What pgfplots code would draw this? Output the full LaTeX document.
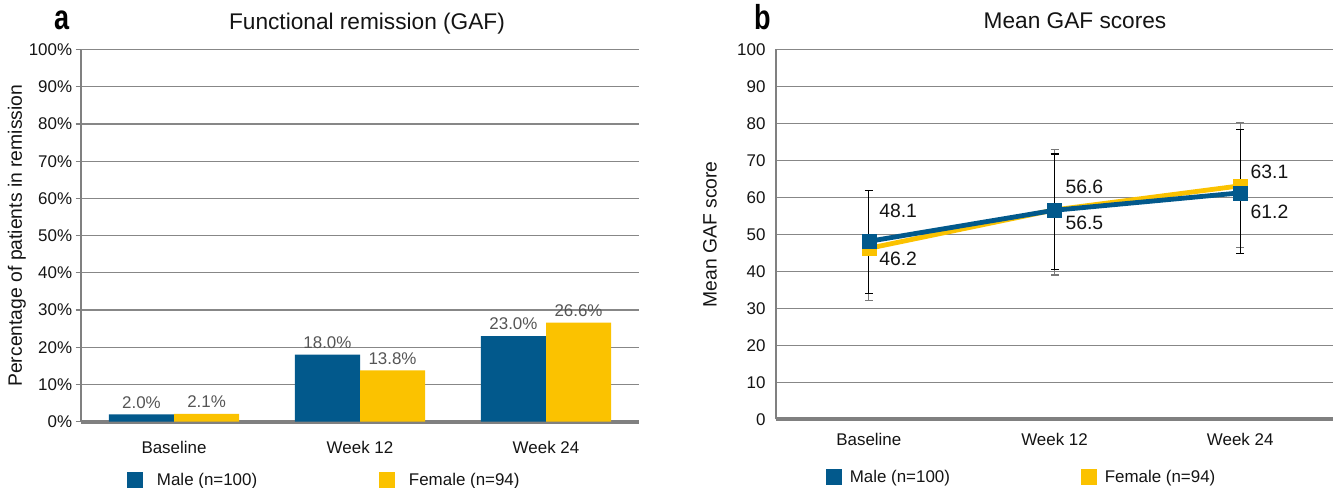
\documentclass[border=0pt]{standalone}
\usepackage{pgfplots}
\pgfplotsset{compat=1.18}
\usepackage{fontspec}
\setmainfont{Liberation Sans}
\usepackage{graphicx}
\definecolor{cblue}{RGB}{2,89,140}
\definecolor{cyel}{RGB}{251,194,0}
\definecolor{cgrid}{RGB}{135,135,135}
\definecolor{caxis}{RGB}{128,128,128}
\definecolor{cval}{RGB}{85,85,85}
\definecolor{ctext}{RGB}{20,20,20}
\definecolor{cerrg}{RGB}{120,120,120}
\newcommand{\fs}[1]{\fontsize{#1}{#1}\selectfont}

\pgfplotsset{
  common/.style={
    scale only axis,
    anchor=south west,
    xmin=-0.5, xmax=2.5,
    ymin=0, ymax=100,
    xtick={0,1,2},
    xticklabels={Baseline,Week 12,Week 24},
    ytick={0,10,...,100},
    /pgf/number format/assume math mode=true,
    axis x line*=bottom,
    axis y line*=left,
    x axis line style={-, draw=caxis, line width=3pt},
    y axis line style={-, draw=caxis, line width=1.5pt},
    ymajorgrids,
    grid style={draw=cgrid, line width=0.9pt},
    xtick style={draw=none},
    tick label style={font=\fs{12.7}, text=ctext},
    xticklabel style={anchor=north, inner sep=0pt, yshift=-10.3pt},
    yticklabel style={anchor=east, inner sep=0pt},
    ylabel style={font=\fs{14.5}, text=ctext, anchor=center, inner sep=0pt},
    legend columns=2,
    legend cell align=left,
    legend image code/.code={\fill[##1] (0pt,-6pt) rectangle (12pt,6pt);},
  },
}

\pgfplotstableread{
x y lab
-0.175 2.0 2.0\%
0.825 18.0 18.0\%
1.825 23.0 23.0\%
}\malebars
\pgfplotstableread{
x y lab
0.175 2.1 2.1\%
1.175 13.8 13.8\%
2.175 26.6 26.6\%
}\femalebars

\begin{document}
\begin{tikzpicture}
\useasboundingbox (0,0) rectangle (1008pt,366pt);

% ---------------- Panel a ----------------
\begin{axis}[common,
  at={(60.75pt,49.725pt)}, width=418.5pt, height=279pt,
  yticklabel={\pgfmathprintnumber{\tick}\%},
  ytick style={draw=caxis, line width=0.9pt},
  major tick length=4pt, tick align=outside,
  yticklabel style={xshift=-2.5pt},
  ylabel={Percentage of patients in remission},
  ylabel style={at={(axis description cs:-0.1147,0.5)}},
  legend style={at={(axis description cs:0.0824,-0.157)}, anchor=west,
    draw=none, fill=none, inner sep=0pt, outer sep=0pt,
    font=\fs{12.7}, text=ctext, nodes={inner sep=0pt},
    /tikz/every odd column/.append style={column sep=10.5pt}},
]
\addplot[ybar, bar width=0.35, bar shift=0pt, fill=cblue, draw=none,
  point meta=explicit symbolic, nodes near coords,
  every node near coord/.style={font=\fs{12.7}, text=cval, anchor=south, inner sep=0pt, yshift=4.3pt},
  forget plot] table[x=x, y=y, meta=lab] {\malebars};
\addplot[ybar, bar width=0.35, bar shift=0pt, fill=cyel, draw=none,
  point meta=explicit symbolic, nodes near coords,
  every node near coord/.style={font=\fs{12.7}, text=cval, anchor=south, inner sep=0pt, yshift=4.3pt},
  forget plot] table[x=x, y=y, meta=lab] {\femalebars};
\addlegendimage{fill=cblue, draw=none}
\addlegendentry{\makebox[166.5pt][l]{Male (n=100)}}
\addlegendimage{fill=cyel, draw=none}
\addlegendentry{Female (n=94)}
\end{axis}

% ---------------- Panel b ----------------
\begin{axis}[common,
  at={(582pt,51.525pt)}, width=417.75pt, height=277.5pt,
  major tick length=0pt,
  ytick style={draw=none},
  yticklabel style={xshift=-7.7pt},
  ylabel={Mean GAF score},
  ylabel style={at={(axis description cs:-0.1185,0.5)}},
  legend style={at={(axis description cs:0.0898,-0.157)}, anchor=west,
    draw=none, fill=none, inner sep=0pt, outer sep=0pt,
    font=\fs{12.7}, text=ctext, nodes={inner sep=0pt},
    /tikz/every odd column/.append style={column sep=5.8pt}},
]
% error bars (female, grey)
\addplot[forget plot, mark=none, draw opacity=0, line width=0.1pt,
  error bars/.cd, y dir=both, y explicit, error mark=-,
  error bar style={draw=cerrg, draw opacity=1, line width=0.8pt, solid},
  error mark options={rotate=90, draw=cerrg, draw opacity=1, line width=0.8pt, mark size=3pt}]
  coordinates {(0,46.2) += (0,15.6) -= (0,14.0)
               (1,56.6) += (0,16.4) -= (0,17.6)
               (2,63.1) += (0,17.0) -= (0,16.7)};
% error bars (male, black)
\addplot[forget plot, mark=none, draw opacity=0, line width=0.1pt,
  error bars/.cd, y dir=both, y explicit, error mark=-,
  error bar style={draw=black, draw opacity=1, line width=0.8pt, solid},
  error mark options={rotate=90, draw=black, draw opacity=1, line width=0.8pt, mark size=3pt}]
  coordinates {(0,48.1) += (0,13.7) -= (0,14.2)
               (1,56.5) += (0,15.2) -= (0,16.1)
               (2,61.2) += (0,17.0) -= (0,16.3)};
\addplot[forget plot, color=cyel, line width=3.6pt, mark=square*, mark size=5.25pt,
  mark options={line width=0.3pt}]
  coordinates {(0,46.2) (1,56.6) (2,63.1)};
\addplot[forget plot, color=cblue, line width=3.6pt, mark=square*, mark size=5.25pt,
  mark options={line width=0.3pt}]
  coordinates {(0,48.1) (1,56.5) (2,61.2)};
\node[font=\fs{14.5}, text=ctext, anchor=west, inner sep=0pt] at (axis cs:0.055,56.4) {48.1};
\node[font=\fs{14.5}, text=ctext, anchor=west, inner sep=0pt] at (axis cs:0.055,43.3) {46.2};
\node[font=\fs{14.5}, text=ctext, anchor=west, inner sep=0pt] at (axis cs:1.058,62.9) {56.6};
\node[font=\fs{14.5}, text=ctext, anchor=west, inner sep=0pt] at (axis cs:1.058,53.1) {56.5};
\node[font=\fs{14.5}, text=ctext, anchor=west, inner sep=0pt] at (axis cs:2.055,66.8) {63.1};
\node[font=\fs{14.5}, text=ctext, anchor=west, inner sep=0pt] at (axis cs:2.055,56.1) {61.2};
\addlegendimage{fill=cblue, draw=none}
\addlegendentry{\makebox[173.45pt][l]{Male (n=100)}}
\addlegendimage{fill=cyel, draw=none}
\addlegendentry{Female (n=94)}
\end{axis}

% titles and panel letters
\node[font=\fs{17}, text=ctext, anchor=base] at (275.25pt,343.5pt) {Functional remission (GAF)};
\node[font=\fs{17}, text=ctext, anchor=base] at (806.25pt,344.25pt) {Mean GAF scores};
\node[font=\bfseries\fs{26}, text=black, anchor=base] at (46.5pt,343.5pt) {\scalebox{0.78}[1]{a}};
\node[font=\bfseries\fs{26}, text=black, anchor=base] at (572.25pt,343.5pt) {\scalebox{0.78}[1]{b}};
\end{tikzpicture}
\end{document}
